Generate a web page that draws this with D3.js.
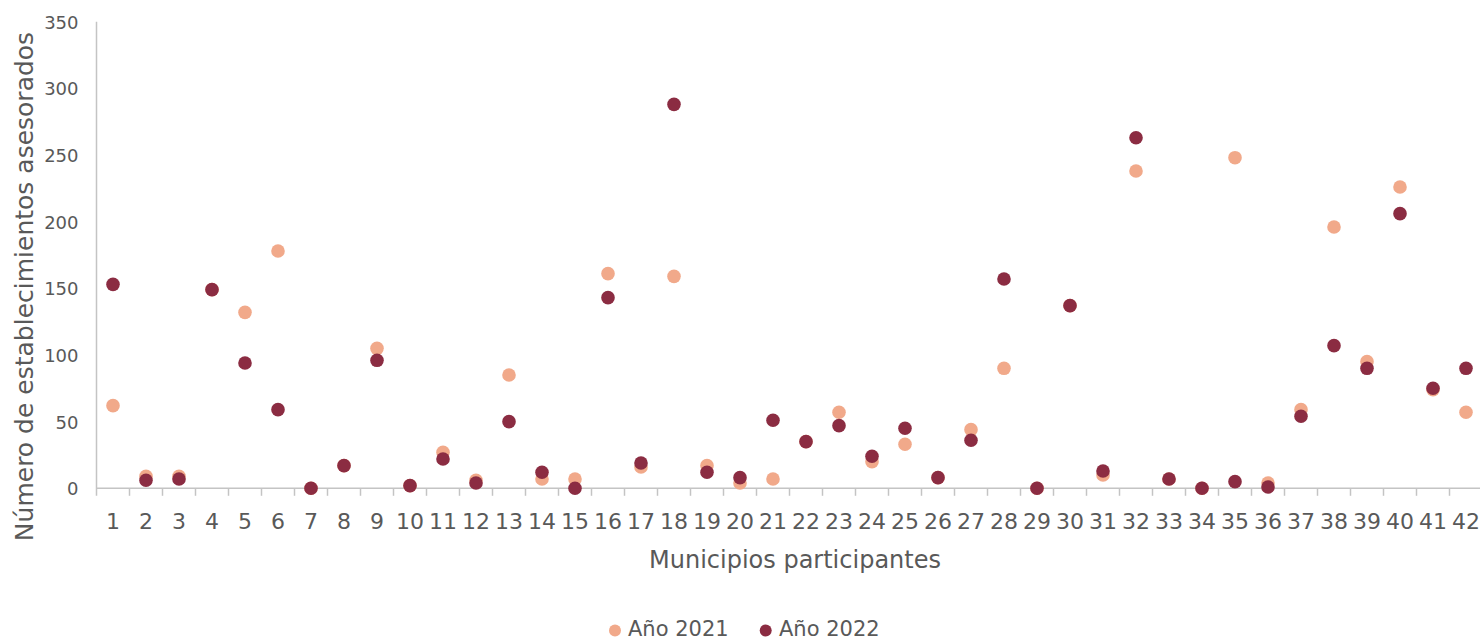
<!DOCTYPE html>
<html>
<head>
<meta charset="utf-8">
<script src="https://cdn.jsdelivr.net/npm/d3@7"></script>
<style>
  html, body { margin: 0; padding: 0; background: #ffffff; }
  svg { display: block; font-family: "DejaVu Sans", sans-serif; }
</style>
</head>
<body>
<svg id="chart" width="1480" height="641"></svg>
<script>
// Municipios participantes (1–42)
const municipios = d3.range(1, 43).map(String);

// Establecimientos asesorados por municipio
const anio2021 = [62, 9, 9, 149, 132, 178, 0, 17, 105, 2, 27, 6, 85, 7, 7, 161, 16, 159, 17, 4, 7,
                  35, 57, 20, 33, 8, 44, 90, 0, 137, 10, 238, 7, 0, 248, 4, 59, 196, 95, 226, 74, 57];
const anio2022 = [153, 6, 7, 149, 94, 59, 0, 17, 96, 2, 22, 4, 50, 12, 0, 143, 19, 288, 12, 8, 51,
                  35, 47, 24, 45, 8, 36, 157, 0, 137, 13, 263, 7, 0, 5, 1, 54, 107, 90, 206, 75, 90];

const yTicks = [0, 50, 100, 150, 200, 250, 300, 350];

const series = [
  { name: "Año 2021", values: anio2021, color: "#F1A98A" },
  { name: "Año 2022", values: anio2022, color: "#8B2C42" }
];

const textColor = "#595959";
const axisColor = "#C4C4C4";

const svg = d3.select("#chart");

const x = d3.scaleBand().domain(municipios).range([96.5, 1482.5]).padding(0);
const y = d3.scaleLinear().domain([0, 350]).range([488.3, 21.7]);

// Y axis: labels only, plus the vertical rule
const yAxis = svg.append("g")
  .attr("transform", "translate(78.5,0)")
  .call(d3.axisLeft(y).tickValues(yTicks).tickSize(0).tickPadding(0));
yAxis.select(".domain").remove();
yAxis.selectAll("text")
  .attr("x", 0)
  .attr("dy", "0.36em")
  .style("font-size", "18px")
  .style("font-family", "DejaVu Sans")
  .attr("fill", textColor);

svg.append("line")
  .attr("x1", 96.5).attr("x2", 96.5)
  .attr("y1", y(350)).attr("y2", y(0) + 7.5)
  .attr("stroke", axisColor).attr("stroke-width", 1.5);

// X axis: baseline, boundary ticks between categories, centred labels
svg.append("line")
  .attr("x1", x.range()[0]).attr("x2", x.range()[1])
  .attr("y1", y(0)).attr("y2", y(0))
  .attr("stroke", axisColor).attr("stroke-width", 1.5);

svg.append("g").selectAll("line")
  .data(municipios.slice(1).concat(["__end"]))
  .join("line")
  .attr("x1", d => d === "__end" ? x.range()[1] : x(d))
  .attr("x2", d => d === "__end" ? x.range()[1] : x(d))
  .attr("y1", y(0)).attr("y2", y(0) + 7.5)
  .attr("stroke", axisColor).attr("stroke-width", 1.5);

const xAxis = svg.append("g")
  .attr("transform", `translate(0,${y(0)})`)
  .call(d3.axisBottom(x).tickSize(0).tickPadding(0));
xAxis.select(".domain").remove();
xAxis.selectAll("text")
  .attr("y", 40.4)
  .attr("dy", 0)
  .style("font-size", "22px")
  .style("font-family", "DejaVu Sans")
  .attr("fill", textColor);

// Axis titles
svg.append("text")
  .attr("transform", "translate(32.5,286.5) rotate(-90)")
  .attr("text-anchor", "middle")
  .style("font-size", "25px")
  .attr("fill", textColor)
  .text("Número de establecimientos asesorados");

svg.append("text")
  .attr("x", 795).attr("y", 568)
  .attr("text-anchor", "middle")
  .style("font-size", "24px")
  .attr("fill", textColor)
  .text("Municipios participantes");

// Points: 2021 first, 2022 on top
series.forEach(s => {
  svg.append("g").selectAll("circle")
    .data(municipios.map((m, i) => ({ m, v: s.values[i] })))
    .join("circle")
    .attr("cx", d => x(d.m) + x.bandwidth() / 2)
    .attr("cy", d => y(d.v))
    .attr("r", 6.8)
    .attr("fill", s.color);
});

// Legend
const legendPos = [{ cx: 615, tx: 628 }, { cx: 765.7, tx: 779 }];
const legend = svg.append("g");
series.forEach((s, i) => {
  legend.append("circle")
    .attr("cx", legendPos[i].cx).attr("cy", 630.5)
    .attr("r", 6).attr("fill", s.color);
  legend.append("text")
    .attr("x", legendPos[i].tx).attr("y", 635.5)
    .style("font-size", "21px")
    .attr("fill", textColor)
    .text(s.name);
});
</script>
</body>
</html>
